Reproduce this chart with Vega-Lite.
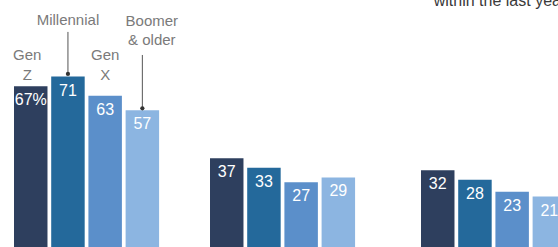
{
  "$schema": "https://vega.github.io/schema/vega-lite/v6.json",
  "padding": {"left": 13, "top": 0, "right": 0, "bottom": 0},
  "spacing": 50,
  "bounds": "flush",
  "config": {"view": {"stroke": null}, "font": "Liberation Sans"},
  "datasets": {
    "bars": [
      {"group": "A", "gen": "Gen Z", "value": 67, "label": "67%"},
      {"group": "A", "gen": "Millennial", "value": 71, "label": "71"},
      {"group": "A", "gen": "Gen X", "value": 63, "label": "63"},
      {"group": "A", "gen": "Boomer & older", "value": 57, "label": "57"},
      {"group": "B", "gen": "Gen Z", "value": 37, "label": "37"},
      {"group": "B", "gen": "Millennial", "value": 33, "label": "33"},
      {"group": "B", "gen": "Gen X", "value": 27, "label": "27"},
      {"group": "B", "gen": "Boomer & older", "value": 29, "label": "29"},
      {"group": "C", "gen": "Gen Z", "value": 32, "label": "32"},
      {"group": "C", "gen": "Millennial", "value": 28, "label": "28"},
      {"group": "C", "gen": "Gen X", "value": 23, "label": "23"},
      {"group": "C", "gen": "Boomer & older", "value": 21, "label": "21"}
    ]
  },
  "hconcat": [
    {
      "width": 145.1,
      "height": 247,
      "layer": [
        {
          "data": {"name": "bars"},
          "transform": [{"filter": "datum.group === 'A'"}],
          "mark": {"type": "bar"},
          "encoding": {
            "x": {"field": "gen", "type": "nominal", "sort": null, "scale": {"domain": ["Gen Z", "Millennial", "Gen X", "Boomer & older"], "paddingInner": 0.1, "paddingOuter": 0}, "axis": null},
            "y": {"field": "value", "type": "quantitative", "scale": {"domain": [0, 102.9], "nice": false}, "axis": null},
            "color": {"field": "gen", "type": "nominal", "scale": {"domain": ["Gen Z", "Millennial", "Gen X", "Boomer & older"], "range": ["#2e3f5e", "#24699b", "#5b8fca", "#8cb5e1"]}, "legend": null}
          }
        },
        {
          "data": {"name": "bars"},
          "transform": [{"filter": "datum.group === 'A'"}],
          "mark": {"type": "text", "baseline": "top", "dy": 6, "fontSize": 16, "color": "white"},
          "encoding": {
            "x": {"field": "gen", "type": "nominal", "sort": null},
            "y": {"field": "value", "type": "quantitative"},
            "text": {"field": "label"}
          }
        },
        {
          "data": {"values": [{"gen": "Gen Z", "note": "Gen\nZ"}]},
          "mark": {"type": "text", "lineBreak": "\n", "lineHeight": 20, "fontSize": 15, "color": "#7a7a7a", "baseline": "alphabetic", "dx": -3.5},
          "encoding": {"x": {"field": "gen", "type": "nominal"}, "y": {"datum": 77.9}, "text": {"field": "note"}}
        },
        {
          "data": {"values": [{"gen": "Gen X", "note": "Gen\nX"}]},
          "mark": {"type": "text", "lineBreak": "\n", "lineHeight": 20, "fontSize": 15, "color": "#7a7a7a", "baseline": "alphabetic"},
          "encoding": {"x": {"field": "gen", "type": "nominal"}, "y": {"datum": 77.9}, "text": {"field": "note"}}
        },
        {
          "data": {"values": [{"gen": "Millennial", "note": "Millennial"}]},
          "mark": {"type": "text", "fontSize": 15, "color": "#7a7a7a", "baseline": "alphabetic"},
          "encoding": {"x": {"field": "gen", "type": "nominal"}, "y": {"datum": 92.5}, "text": {"field": "note"}}
        },
        {
          "data": {"values": [{"gen": "Boomer & older", "note": "Boomer\n& older"}]},
          "mark": {"type": "text", "lineBreak": "\n", "lineHeight": 19, "fontSize": 15, "color": "#7a7a7a", "baseline": "alphabetic", "dx": 9.5},
          "encoding": {"x": {"field": "gen", "type": "nominal"}, "y": {"datum": 92.2}, "text": {"field": "note"}}
        },
        {
          "data": {"values": [{"gen": "Millennial", "top": 89.6, "end": 72.1}, {"gen": "Boomer & older", "top": 80, "end": 57.8}]},
          "mark": {"type": "rule", "color": "#555555", "strokeWidth": 1},
          "encoding": {"x": {"field": "gen", "type": "nominal"}, "y": {"field": "top", "type": "quantitative"}, "y2": {"field": "end"}}
        },
        {
          "data": {"values": [{"gen": "Millennial", "end": 72.1}, {"gen": "Boomer & older", "end": 57.8}]},
          "mark": {"type": "point", "filled": true, "color": "#333333", "size": 18, "opacity": 1},
          "encoding": {"x": {"field": "gen", "type": "nominal"}, "y": {"field": "end", "type": "quantitative"}}
        }
      ]
    },
    {
      "width": 160.8,
      "height": 247,
      "data": {"name": "bars"},
      "transform": [{"filter": "datum.group === 'B'"}],
      "encoding": {
        "x": {"field": "gen", "type": "nominal", "sort": null, "scale": {"domain": ["Gen Z", "Millennial", "Gen X", "Boomer & older"], "paddingInner": 0.1, "paddingOuter": 0.2113, "align": 0}, "axis": null},
        "y": {"field": "value", "type": "quantitative", "scale": {"domain": [0, 102.9], "nice": false}, "axis": null}
      },
      "layer": [
        {
          "mark": {"type": "bar"},
          "encoding": {"color": {"field": "gen", "type": "nominal", "scale": {"domain": ["Gen Z", "Millennial", "Gen X", "Boomer & older"], "range": ["#2e3f5e", "#24699b", "#5b8fca", "#8cb5e1"]}, "legend": null}}
        },
        {
          "mark": {"type": "text", "baseline": "top", "dy": 6, "fontSize": 16, "color": "white"},
          "encoding": {"text": {"field": "label"}}
        }
      ]
    },
    {
      "width": 145.1,
      "height": 247,
      "layer": [
        {
          "data": {"name": "bars"},
          "transform": [{"filter": "datum.group === 'C'"}],
          "mark": {"type": "bar"},
          "encoding": {
            "x": {"field": "gen", "type": "nominal", "sort": null, "scale": {"domain": ["Gen Z", "Millennial", "Gen X", "Boomer & older"], "paddingInner": 0.1, "paddingOuter": 0}, "axis": null},
            "y": {"field": "value", "type": "quantitative", "scale": {"domain": [0, 102.9], "nice": false}, "axis": null},
            "color": {"field": "gen", "type": "nominal", "scale": {"domain": ["Gen Z", "Millennial", "Gen X", "Boomer & older"], "range": ["#2e3f5e", "#24699b", "#5b8fca", "#8cb5e1"]}, "legend": null}
          }
        },
        {
          "data": {"name": "bars"},
          "transform": [{"filter": "datum.group === 'C'"}],
          "mark": {"type": "text", "baseline": "top", "dy": 6, "fontSize": 16, "color": "white"},
          "encoding": {
            "x": {"field": "gen", "type": "nominal", "sort": null},
            "y": {"field": "value", "type": "quantitative"},
            "text": {"field": "label"}
          }
        },
        {
          "data": {"values": [{"gen": "Gen Z", "note": "within the last year"}]},
          "mark": {"type": "text", "align": "left", "baseline": "alphabetic", "dx": -4, "fontSize": 16, "color": "#3a3a3a", "clip": true},
          "encoding": {"x": {"field": "gen", "type": "nominal"}, "y": {"datum": 100.2}, "text": {"field": "note"}}
        }
      ]
    }
  ]
}
